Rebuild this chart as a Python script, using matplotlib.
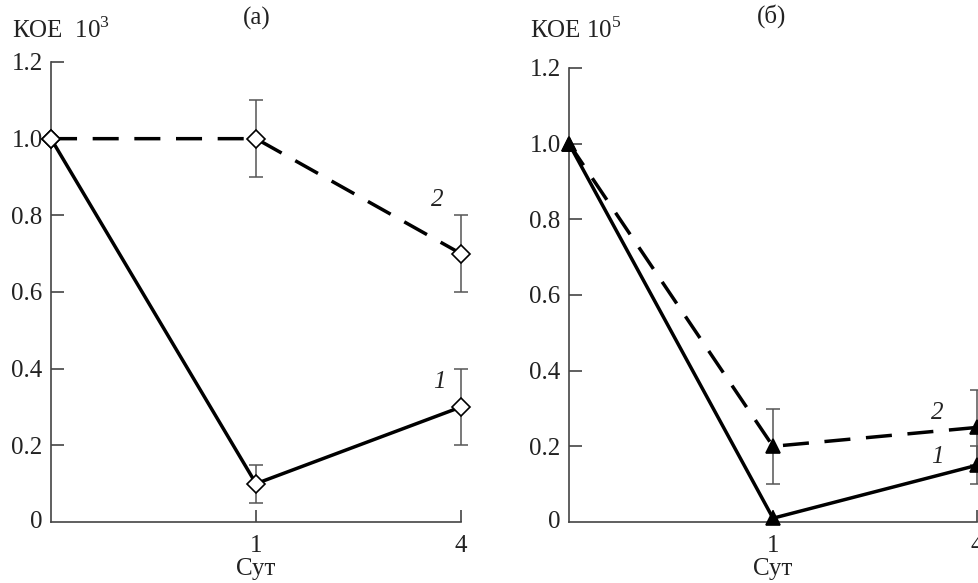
import numpy as np
import matplotlib
matplotlib.use("Agg")
import matplotlib.pyplot as plt

plt.rcParams['font.family'] = ['Liberation Serif', 'DejaVu Serif']
plt.rcParams['mathtext.fontset'] = 'custom'
plt.rcParams['mathtext.rm'] = 'Liberation Serif'

# ---- data ----
x_labels = ["", "1", "4"]
x_pos = [0, 1, 2]
y_ticks = [0, 0.2, 0.4, 0.6, 0.8, 1.0, 1.2]
y_tick_labels = ["0", "0.2", "0.4", "0.6", "0.8", "1.0", "1.2"]

a_s1 = [1.0, 0.10, 0.30]
a_s1_err = [0.0, 0.05, 0.10]
a_s2 = [1.0, 1.00, 0.70]
a_s2_err = [0.0, 0.10, 0.10]

b_s1 = [1.0, 0.01, 0.15]
b_s1_err = [0.0, 0.00, 0.05]
b_s2 = [1.0, 0.20, 0.25]
b_s2_err = [0.0, 0.10, 0.10]

W, H = 979, 583
fig = plt.figure(figsize=(W / 100, H / 100), dpi=100)

def frac_box(l, r, t, b):
    return [l / W, 1 - b / H, (r - l) / W, (b - t) / H]

ax_a = fig.add_axes(frac_box(51, 461, 62, 522))
ax_b = fig.add_axes(frac_box(569, 977, 68, 522))

spine_col = '#444444'
err_col = '#555555'
fs = 18

def style(ax):
    ax.set_xlim(0, 2)
    ax.set_ylim(0, 1.2)
    for s in ['top', 'right']:
        ax.spines[s].set_visible(False)
    for s in ['left', 'bottom']:
        ax.spines[s].set_color(spine_col)
        ax.spines[s].set_linewidth(1.2)
    ax.set_xticks(x_pos[1:])
    ax.set_xticklabels(x_labels[1:], fontsize=fs, color='#222222')
    ax.set_yticks(y_ticks[1:])
    ax.set_yticklabels(y_tick_labels[1:], fontsize=fs, color='#222222')
    ax.tick_params(direction='in', length=9, width=1.2, color=spine_col, pad=6)
    ax.tick_params(axis='x', pad=9)
    ax.text(-0.02, 0, "0", transform=ax.get_yaxis_transform(), ha='right',
            va='center', fontsize=fs, color='#222222')
    ax.set_xlabel("Сут", fontsize=fs, color='#222222', labelpad=1)

def draw(ax, y, err, ls, marker, mfc, ms):
    line, = ax.plot(x_pos, y, color='black', lw=2.5, ls='-', zorder=3,
                    clip_on=False, solid_capstyle='butt')
    if ls == 'dashed':
        line.set_dashes((7.5, 4.5))
        line.set_dash_capstyle('butt')
    xe = [x for x, e in zip(x_pos, err) if e > 0]
    ye = [v for v, e in zip(y, err) if e > 0]
    ee = [e for e in err if e > 0]
    if xe:
        ax.errorbar(xe, ye, yerr=ee, fmt='none', ecolor=err_col, elinewidth=1.1,
                    capsize=4.7, capthick=1.1, zorder=2, clip_on=False)
    ax.plot(x_pos, y, ls='none', marker=marker, ms=ms, mfc=mfc, mec='black',
            mew=1.2, zorder=5, clip_on=False)

style(ax_a)
style(ax_b)

draw(ax_a, a_s1, a_s1_err, 'solid', 'D', 'white', 9)
draw(ax_a, a_s2, a_s2_err, 'dashed', 'D', 'white', 9)
draw(ax_b, b_s1, b_s1_err, 'solid', '^', 'black', 10)
draw(ax_b, b_s2, b_s2_err, 'dashed', '^', 'black', 10)

def lab(ax, txt, y_last, dx, dy):
    ax.annotate(txt, xy=(2, y_last), xytext=(dx, dy), textcoords='offset pixels',
                ha='center', va='center', fontsize=fs, style='italic', color='#222222')

lab(ax_a, "2", a_s2[-1], -24, 54)
lab(ax_a, "1", a_s1[-1], -22, 25)
lab(ax_b, "2", b_s2[-1], -40, 14)
lab(ax_b, "1", b_s1[-1], -40, 8)

fig.text(257 / W, 1 - 18 / H, "(а)", ha='center', va='center', fontsize=fs, color='#222222')
fig.text(772 / W, 1 - 16 / H, "(б)", ha='center', va='center', fontsize=fs, color='#222222')
fig.text(12 / W, 1 - 30 / H, "КОЕ  10$^{3}$", ha='left', va='center', fontsize=fs, color='#222222')
fig.text(530 / W, 1 - 30 / H, "КОЕ 10$^{5}$", ha='left', va='center', fontsize=fs, color='#222222')

fig.savefig("out.png", dpi=100)
